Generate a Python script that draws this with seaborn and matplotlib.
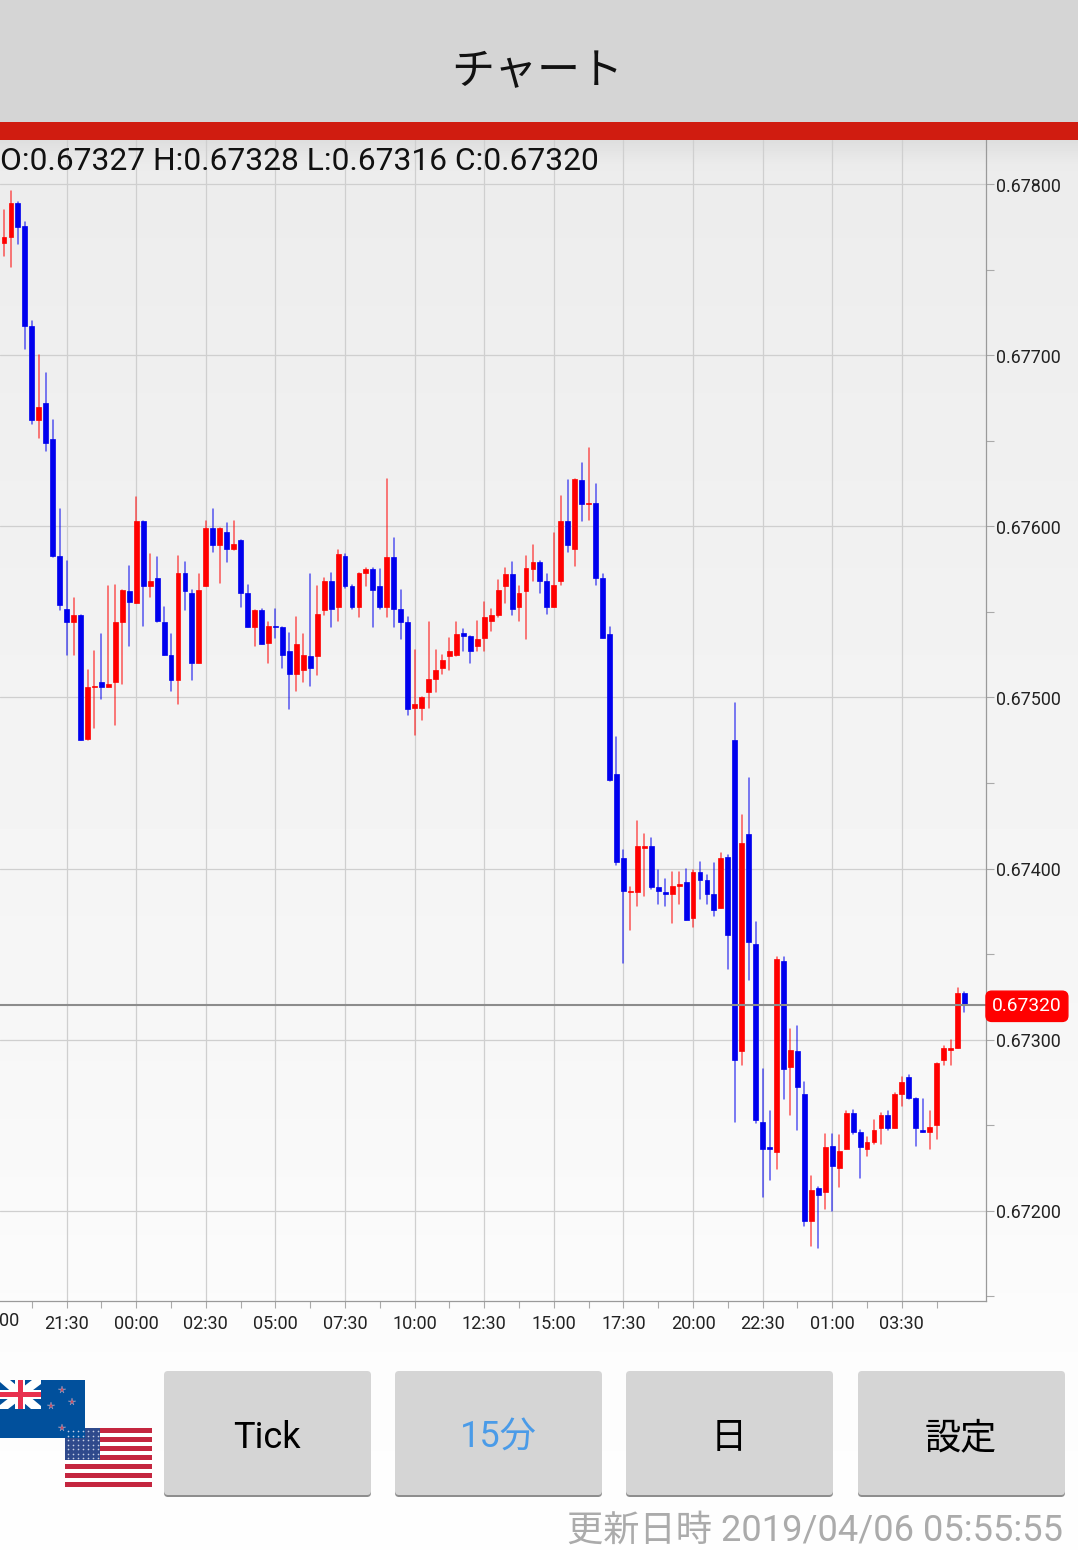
import numpy as np
import pandas as pd
import matplotlib
matplotlib.use('Agg')
import matplotlib.pyplot as plt
from matplotlib.patches import FancyBboxPatch, Rectangle, Polygon
from matplotlib.transforms import blended_transform_factory, ScaledTranslation
import seaborn as sns

# 15 minute candles, prices in 1/100000
opens = [
    67766, 67769, 67789, 67776, 67717, 67662, 67672, 67651, 67583, 67552,
    67544, 67548, 67476, 67506, 67509, 67506, 67509, 67544, 67562, 67555,
    67603, 67565, 67570, 67544, 67525, 67510, 67573, 67561, 67520, 67565,
    67599, 67589, 67597, 67587, 67592, 67561, 67541, 67551, 67532, 67542,
    67541, 67527, 67514, 67516, 67524, 67524, 67551, 67568, 67553, 67583,
    67565, 67553, 67573, 67575, 67565, 67553, 67582, 67552, 67544, 67494,
    67494, 67503, 67511, 67517, 67524, 67525, 67538, 67536, 67530, 67535,
    67545, 67548, 67565, 67572, 67553, 67562, 67575, 67579, 67568, 67553,
    67568, 67603, 67587, 67627, 67613, 67614, 67570, 67537, 67455, 67406,
    67386, 67386, 67412, 67413, 67389, 67386, 67385, 67390, 67392, 67371,
    67398, 67393, 67385, 67377, 67407, 67475, 67293, 67420, 67356, 67252,
    67237, 67234, 67346, 67284, 67293, 67268, 67194, 67213, 67211, 67238,
    67225, 67236, 67257, 67246, 67236, 67240, 67248, 67256, 67248, 67268,
    67278, 67266, 67247, 67246, 67250, 67288, 67294, 67295, 67327,
]
highs = [
    67785, 67796, 67790, 67778, 67720, 67700, 67690, 67662, 67610, 67580,
    67558, 67548, 67516, 67527, 67537, 67565, 67566, 67563, 67577, 67617,
    67603, 67584, 67582, 67553, 67537, 67583, 67579, 67563, 67572, 67603,
    67610, 67599, 67602, 67603, 67592, 67566, 67551, 67552, 67544, 67552,
    67541, 67538, 67547, 67537, 67572, 67565, 67570, 67573, 67586, 67584,
    67566, 67573, 67576, 67576, 67575, 67628, 67593, 67563, 67547, 67528,
    67500, 67544, 67528, 67525, 67535, 67544, 67540, 67536, 67545, 67556,
    67552, 67569, 67576, 67579, 67565, 67583, 67589, 67580, 67572, 67596,
    67618, 67627, 67628, 67637, 67646, 67625, 67572, 67541, 67477, 67411,
    67389, 67428, 67420, 67418, 67399, 67394, 67398, 67398, 67400, 67399,
    67404, 67396, 67403, 67409, 67408, 67497, 67431, 67453, 67369, 67283,
    67258, 67348, 67348, 67306, 67308, 67275, 67220, 67214, 67245, 67245,
    67244, 67258, 67259, 67247, 67243, 67253, 67257, 67258, 67269, 67278,
    67279, 67266, 67265, 67258, 67286, 67296, 67300, 67330, 67328,
]
lows = [
    67758, 67752, 67765, 67704, 67660, 67652, 67644, 67582, 67551, 67525,
    67525, 67475, 67475, 67482, 67499, 67506, 67484, 67508, 67530, 67555,
    67542, 67559, 67544, 67525, 67504, 67496, 67551, 67510, 67520, 67565,
    67585, 67567, 67579, 67586, 67553, 67541, 67530, 67531, 67520, 67535,
    67517, 67493, 67504, 67509, 67507, 67513, 67548, 67541, 67545, 67564,
    67552, 67547, 67565, 67541, 67552, 67547, 67541, 67534, 67490, 67478,
    67487, 67494, 67503, 67514, 67516, 67524, 67527, 67520, 67527, 67527,
    67539, 67547, 67555, 67548, 67545, 67534, 67568, 67561, 67549, 67553,
    67566, 67585, 67577, 67603, 67604, 67566, 67535, 67451, 67402, 67345,
    67364, 67378, 67384, 67388, 67379, 67378, 67368, 67379, 67370, 67366,
    67382, 67379, 67372, 67377, 67341, 67252, 67285, 67335, 67251, 67208,
    67218, 67224, 67265, 67256, 67247, 67191, 67179, 67178, 67201, 67200,
    67214, 67236, 67245, 67219, 67232, 67239, 67239, 67247, 67248, 67261,
    67265, 67238, 67246, 67236, 67242, 67285, 67285, 67295, 67316,
]
closes = [
    67769, 67789, 67775, 67717, 67662, 67670, 67649, 67583, 67554, 67544,
    67548, 67475, 67506, 67507, 67506, 67508, 67544, 67563, 67556, 67603,
    67565, 67568, 67545, 67525, 67510, 67573, 67562, 67520, 67563, 67599,
    67589, 67599, 67587, 67590, 67561, 67541, 67551, 67531, 67542, 67541,
    67525, 67514, 67531, 67525, 67517, 67549, 67568, 67552, 67584, 67565,
    67553, 67573, 67575, 67563, 67553, 67582, 67552, 67544, 67493, 67496,
    67500, 67511, 67516, 67522, 67527, 67537, 67536, 67527, 67534, 67547,
    67548, 67563, 67572, 67552, 67561, 67576, 67579, 67568, 67553, 67566,
    67603, 67589, 67628, 67613, 67614, 67570, 67535, 67452, 67404, 67387,
    67387, 67413, 67413, 67389, 67387, 67385, 67390, 67391, 67370, 67398,
    67393, 67385, 67376, 67406, 67361, 67288, 67415, 67357, 67253, 67236,
    67236, 67347, 67283, 67294, 67272, 67194, 67212, 67209, 67237, 67226,
    67235, 67257, 67246, 67237, 67240, 67247, 67256, 67248, 67268, 67275,
    67266, 67248, 67246, 67249, 67286, 67295, 67295, 67327, 67320,
]

time_labels = ['21:30', '00:00', '02:30', '05:00', '07:30', '10:00', '12:30',
               '15:00', '17:30', '20:00', '22:30', '01:00', '03:30']
time_label_index = [9, 19, 29, 39, 49, 59, 69, 79, 89, 99, 109, 119, 129]
minor_time_index = [4, 14, 24, 34, 44, 54, 64, 74, 84, 94, 104, 114, 124, 134]
price_ticks = [0.672, 0.673, 0.674, 0.675, 0.676, 0.677, 0.678]
price_minor = [0.6715, 0.6725, 0.6735, 0.6745, 0.6755, 0.6765, 0.6775]
current_price = 0.67320
buttons = ['Tick', '15分', '日', '設定']
button_colors = ['black', '#4a9be8', 'black', 'black']

W, H = 1078, 1550
RED = '#ff0000'
BLUE = '#0000ee'
LATIN = ['Roboto', 'Noto Sans CJK JP', 'DejaVu Sans']
JP = ['Noto Sans CJK JP', 'DejaVu Sans']

sns.set_style('white')
plt.rcParams['font.family'] = LATIN

df = pd.DataFrame({'open': opens, 'high': highs, 'low': lows, 'close': closes}) / 1e5
df['candle'] = df.index
df['dir'] = np.where(df['close'] >= df['open'], 'up', 'down')
wicks = df.melt(id_vars=['candle', 'dir'], value_vars=['high', 'low'], value_name='price')
wicks = wicks.sort_values(['candle', 'price'])

fig = plt.figure(figsize=(W / 100, H / 100), dpi=100)

# background gradient
bg = fig.add_axes([0, 0, 1, 1], zorder=0)
bg.axis('off')
rows = np.arange(H)
shade = np.interp(rows, [0, 140, 165, 300, 1000, 1350, 1550], [232, 222, 236, 238, 246, 252, 254])
bg.imshow(shade[:, None], cmap='gray', vmin=0, vmax=255, aspect='auto', extent=[0, W, H, 0])
bg.set_xlim(0, W)
bg.set_ylim(H, 0)

# chart area
ax = fig.add_axes([0, 1 - 1301 / H, 986 / W, (1301 - 140) / H], zorder=1)
ax.patch.set_alpha(0)
ax.set_axisbelow(True)

sns.lineplot(data=wicks, x='candle', y='price', units='candle', estimator=None, sort=False,
             hue='dir', palette={'up': RED, 'down': BLUE}, hue_order=['up', 'down'],
             legend=False, linewidth=1.1, alpha=0.65, ax=ax, zorder=3)

body_low = df[['open', 'close']].min(axis=1)
body_size = (df['close'] - df['open']).abs()
body_color = df['dir'].map({'up': RED, 'down': BLUE})
ax.bar(df['candle'], body_size, bottom=body_low, width=0.7, color=body_color,
       edgecolor=body_color, linewidth=0.5, zorder=4)

ax.set_xlim(-0.575, 141.09)
ax.set_ylim(0.671471, 0.67826)
ax.set_xlabel('')
ax.set_ylabel('')

ax.set_xticks(time_label_index)
ax.set_xticks(minor_time_index, minor=True)
ax.set_xticklabels([])
ax.yaxis.tick_right()
ax.set_yticks(price_ticks)
ax.set_yticks(price_minor, minor=True)
ax.set_yticklabels([f'{p:.5f}' for p in price_ticks], fontsize=12.9, color='#222222')
ax.tick_params(axis='y', which='both', length=6, width=0.8, color='#aaaaaa', pad=1.5, right=True)
ax.tick_params(axis='x', which='both', length=5, width=0.8, color='#aaaaaa', bottom=True)
ax.grid(True, which='major', color='#cfcfcf', linewidth=0.9)
for tl in ax.get_yticklabels():
    tl.set_transform(tl.get_transform() + ScaledTranslation(0, -0.5 / 100, fig.dpi_scale_trans))

for side in ['top', 'left']:
    ax.spines[side].set_visible(False)
for side in ['right', 'bottom']:
    ax.spines[side].set_color('#9a9a9a')
    ax.spines[side].set_linewidth(0.9)

ax.axhline(current_price, color='#8c8c8c', linewidth=1.5, zorder=5)
ax.annotate('0.67320', xy=(1.0, current_price), xycoords=ax.get_yaxis_transform(),
            xytext=(4.4, -0.7), textcoords='offset points', ha='left', va='center',
            fontsize=13.8, color='white', annotation_clip=False, zorder=7,
            bbox=dict(boxstyle='round,pad=0.32,rounding_size=0.3', facecolor=RED, edgecolor=RED))

label_trans = blended_transform_factory(ax.transData, ax.transAxes)
for i, label in zip(time_label_index, time_labels):
    ax.text(i, -0.0197, label, transform=label_trans, ha='center', va='center',
            fontsize=13, color='#222222', clip_on=False)

# screen parts in pixel coordinates
ui = fig.add_axes([0, 0, 1, 1], zorder=2)
ui.axis('off')
ui.patch.set_alpha(0)
ui.set_xlim(0, W)
ui.set_ylim(H, 0)

ui.add_patch(Rectangle((0, 0), W, 122, color='#d5d5d5', lw=0))
ui.add_patch(Rectangle((0, 122), W, 18, color='#d01c10', lw=0))
ui.text(537, 72, 'チャート', ha='center', va='center', fontsize=31, family=JP, color='#111111')
ui.text(0, 161, 'O:0.67327 H:0.67328 L:0.67316 C:0.67320', ha='left', va='center',
        fontsize=22.9, color='#111111')
# what is left of the label cut by the screen edge
ui.text(19, 1321, '00', ha='right', va='center', fontsize=13, color='#222222')

# buttons
for left, label, color in zip([164, 395, 626, 858], buttons, button_colors):
    ui.add_patch(FancyBboxPatch((left, 1375), 207, 122, boxstyle='round,pad=0,rounding_size=4',
                                facecolor='#8e8e8e', edgecolor='none'))
    ui.add_patch(FancyBboxPatch((left, 1371), 207, 124, boxstyle='round,pad=0,rounding_size=4',
                                facecolor='#d5d5d5', edgecolor='none'))
    ui.text(left + 103, 1438, label, ha='center', va='center', fontsize=26, color=color, family=LATIN)

ui.text(1063, 1531, '更新日時 2019/04/06 05:55:55', ha='right', va='center', fontsize=26.1,
        color='#ababab', family=LATIN)

# US flag
ui.add_patch(Rectangle((65, 1428), 87, 59, color='white', lw=0))
for s in range(0, 13, 2):
    ui.add_patch(Rectangle((65, 1428 + s * 59 / 13), 87, 59 / 13, color='#c4263f', lw=0))
ui.add_patch(Rectangle((65, 1428), 35, 32, color='#2f4a8c', lw=0))
for sx in np.arange(68, 100, 5):
    for sy in np.arange(1431, 1460, 4.5):
        ui.plot(sx, sy, 'o', ms=1.2, color='#c8d0e4', mew=0)

# NZ flag
ui.add_patch(Rectangle((0, 1380), 84.5, 58, color='#01509c', lw=0))
ui.add_patch(Polygon([(0, 1382), (0, 1380), (10, 1380), (41, 1406), (41, 1409), (31, 1409)], color='white', lw=0))
ui.add_patch(Polygon([(0, 1405), (0, 1409), (8, 1409), (41, 1384), (41, 1380), (32, 1380)], color='white', lw=0))
ui.add_patch(Rectangle((0, 1390), 41, 9, color='white', lw=0))
ui.add_patch(Rectangle((15, 1380), 10, 29, color='white', lw=0))
ui.add_patch(Rectangle((0, 1392), 41, 5, color='#e8304e', lw=0))
ui.add_patch(Rectangle((17.5, 1380), 5, 29, color='#e8304e', lw=0))
for sx, sy in [(62, 1390), (51, 1406), (72, 1402), (62, 1428)]:
    ui.plot(sx, sy, '*', ms=5.5, color='#c8485f', mec='#9fb0d0', mew=0.3)

plt.savefig('out.png', dpi=100)
